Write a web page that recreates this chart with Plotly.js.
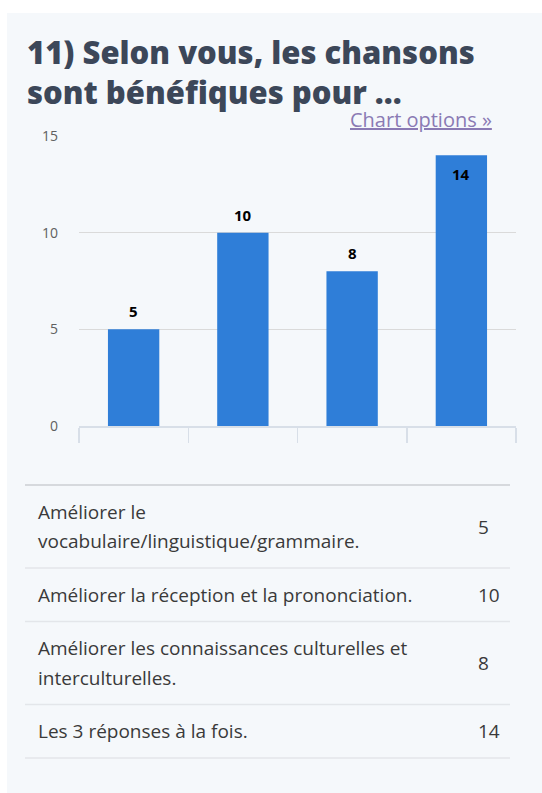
<!DOCTYPE html>
<html>
<head>
<meta charset="utf-8">
<script src="https://cdn.plot.ly/plotly-3.0.1.min.js"></script>
<style>
  html, body { margin: 0; padding: 0; background: #ffffff; }
  #chart { position: absolute; left: 7px; top: 13px; width: 535px; height: 780px; }
</style>
</head>
<body>
<div id="chart"></div>
<script>
// ---- Data ----
const titleText = "11) Selon vous, les chansons<br>sont bénéfiques pour ...";
const categories = [
  "Améliorer le vocabulaire/linguistique/grammaire.",
  "Améliorer la réception et la prononciation.",
  "Améliorer les connaissances culturelles et interculturelles.",
  "Les 3 réponses à la fois."
];
const counts = [5, 10, 8, 14];
const yTickValues = [0, 5, 10, 15];
const labelInside = [false, false, false, true];

// ---- Layout helpers (pixel geometry of the figure) ----
const W = 535, H = 780;
const plotL = 72, plotR = 509, plotT = 123, plotB = 413;
const px2x = px => (px - plotL) / (plotR - plotL);
const py2y = py => (plotB - py) / (plotB - plotT);

function wrap(text, maxChars) {
  const words = text.split(" ");
  const lines = [];
  let cur = "";
  words.forEach(w => {
    const t = cur ? cur + " " + w : w;
    if (t.length > maxChars && cur) { lines.push(cur); cur = w; }
    else cur = t;
  });
  if (cur) lines.push(cur);
  return lines;
}

const annotations = [];
const shapes = [];

// data labels
categories.forEach((c, i) => {
  annotations.push({
    x: c, y: counts[i], xref: "x", yref: "y",
    text: "<b>" + counts[i] + "</b>",
    showarrow: false, yanchor: "middle",
    yshift: labelInside[i] ? -19 : 18,
    font: { family: "Open Sans, sans-serif", size: 15, color: "#000000" }
  });
});

// Chart options link
annotations.push({
  xref: "paper", yref: "paper", x: px2x(487), y: py2y(107),
  xanchor: "right", yanchor: "middle", showarrow: false,
  text: "<u>Chart options »</u>",
  font: { family: "Open Sans, sans-serif", size: 20, color: "#8a7ab4" }
});

// table below the chart
const tblL = 18, tblR = 503, tblTop = 472;
const lineH = 29.5, rowPad = 12;
const txtX = 29, valX = 469;
shapes.push({ type: "line", xref: "paper", yref: "paper",
  x0: px2x(tblL), x1: px2x(tblR), y0: py2y(tblTop), y1: py2y(tblTop),
  line: { color: "#d6d9dd", width: 2 } });
let rowTop = tblTop;
categories.forEach((c, i) => {
  const lines = wrap(c, 44);
  const h = 2 * rowPad + lineH * lines.length;
  lines.forEach((ln, k) => {
    annotations.push({
      xref: "paper", yref: "paper", x: px2x(txtX), y: py2y(rowTop + rowPad + lineH * (k + 0.5)),
      xanchor: "left", yanchor: "middle", showarrow: false, text: ln,
      font: { family: "Open Sans, sans-serif", size: 19, color: "#3a3a3a" }
    });
  });
  annotations.push({
    xref: "paper", yref: "paper", x: px2x(valX), y: py2y(rowTop + h / 2),
    xanchor: "left", yanchor: "middle", showarrow: false, text: String(counts[i]),
    font: { family: "Open Sans, sans-serif", size: 19, color: "#3a3a3a" }
  });
  rowTop += h;
  shapes.push({ type: "line", xref: "paper", yref: "paper",
    x0: px2x(tblL), x1: px2x(tblR), y0: py2y(rowTop), y1: py2y(rowTop),
    line: { color: "#e3e6ea", width: 1.5 } });
});

const trace = {
  type: "bar",
  x: categories,
  y: counts,
  marker: { color: "#2f7ed8" },
  hoverinfo: "none"
};

const layout = {
  width: W, height: H,
  paper_bgcolor: "#f5f8fb",
  plot_bgcolor: "#f5f8fb",
  margin: { l: plotL, r: W - plotR, t: plotT, b: H - plotB, pad: 0 },
  title: {
    text: titleText,
    xref: "container", yref: "container",
    x: 20 / W, xanchor: "left",
    y: 1 - 51 / H, yanchor: "top",
    font: { family: "Open Sans, sans-serif", size: 31, weight: 800, color: "#3c4759" }
  },
  bargap: 0.53,
  showlegend: false,
  xaxis: {
    type: "category",
    showticklabels: false,
    showgrid: false,
    showline: true, linecolor: "#d8dfe8", linewidth: 1.5,
    ticks: "outside", tickson: "boundaries", ticklen: 15,
    tickcolor: "#d8dfe8", tickwidth: 1.5,
    fixedrange: true
  },
  yaxis: {
    range: [0, 15],
    tickvals: yTickValues,
    showgrid: true, gridcolor: "#dadada", gridwidth: 1,
    zeroline: false, showline: false,
    ticks: "", ticklabelstandoff: 20,
    tickfont: { family: "Open Sans, sans-serif", size: 14, color: "#606060" },
    fixedrange: true
  },
  annotations: annotations,
  shapes: shapes
};

Plotly.newPlot("chart", [trace], layout, { displayModeBar: false, staticPlot: true });
</script>
</body>
</html>
